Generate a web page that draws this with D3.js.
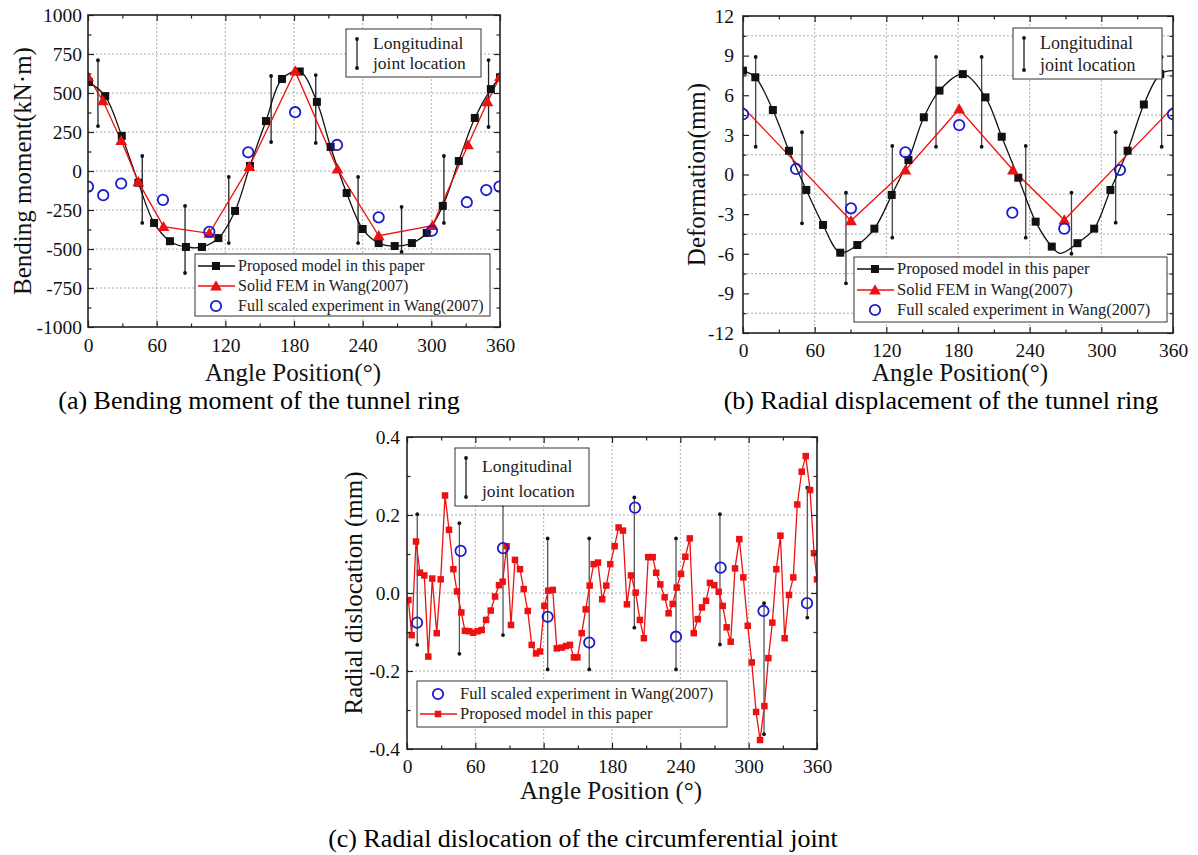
<!DOCTYPE html>
<html>
<head>
<meta charset="utf-8">
<script src="https://cdn.jsdelivr.net/npm/d3@7"></script>
<style>
  body { margin: 0; background: #fff; }
  svg { font-family: "Liberation Serif", "Times New Roman", serif; }
  .tick line { stroke: #222; stroke-width: 1.2; }
</style>
</head>
<body>
<div id="chart"></div>
<script>
const angleTicks = [0, 60, 120, 180, 240, 300, 360];
const angleMinor = [30, 90, 150, 210, 270, 330];

// (a) bending moment, kN·m
const momentTicks = [1000, 750, 500, 250, 0, -250, -500, -750, -1000];
const momentMinor = [875, 625, 375, 125, -125, -375, -625, -875];
const momentModel = [
  [0.8, 570], [15, 480], [29.5, 225], [44, -75], [57.7, -333], [71.6, -450],
  [85.6, -487], [99.6, -487], [114, -430], [128.5, -256], [141.5, 32], [155.5, 320],
  [169.5, 590], [185, 638], [200, 443], [212, 154], [226, -141], [240, -372],
  [254, -462], [268, -481], [283, -462], [296, -397], [310, -224], [324, 64],
  [338, 340], [352, 525], [360, 600]
];
const momentFem = [
  [0, 605], [13, 450], [29, 195], [44, -70], [66, -357], [106, -400], [141, 28],
  [181, 640], [218, 12], [254, -415], [301, -350], [332, 167], [349, 443], [360, 605]
];
const momentTest = [
  [0, -100], [13.3, -155], [29, -80], [65.5, -185], [106, -390], [140, 120],
  [181, 377], [217.6, 167], [254, -297], [300.5, -383], [331, -200], [348, -122], [359.5, -100]
];
const momentJoints = [
  [8.7, 710, 288], [47.4, 96, -333], [84.8, -224, -654], [123, -38, -462], [160, 609, 186],
  [199, 615, 180], [236, -38, -462], [274, -230, -519], [311, 96, -333], [350, 711, 282]
];

// (b) deformation, mm
const deformTicks = [12, 9, 6, 3, 0, -3, -6, -9, -12];
const deformMinor = [10.5, 7.5, 4.5, 1.5, -1.5, -4.5, -7.5, -10.5];
const deformModel = [
  [0, 7.86], [10.3, 7.36], [25, 4.88], [38.5, 1.8], [53, -1.17], [67, -3.82],
  [81.4, -5.92], [95.7, -5.34], [110, -4.1], [124.5, -1.55], [138.5, 1.1], [151.4, 4.33],
  [164.5, 6.35], [184, 7.6], [203, 5.84], [216.6, 2.86], [230.5, -0.24], [245, -3.57],
  [258.5, -5.46], [280, -5.2], [294, -4.1], [307.6, -1.17], [322, 1.8], [335.6, 5.3], [349.3, 7.6]
];
const deformModelLineOnly = [[265.5, -5.97], [360, 7.86]];
const deformFem = [[0, 5.1], [90.4, -3.5], [136, 0.34], [181, 4.96], [226, 0.34], [269, -3.45], [360, 5.1]];
const deformTest = [
  [0, 4.57], [44.4, 0.42], [90.4, -2.56], [136, 1.68], [181, 3.74],
  [225.5, -2.89], [269, -4.1], [315.6, 0.34], [360, 4.57]
];
const deformJoints = [
  [10.6, 8.9, 2.1], [49.4, 3.2, -3.7], [86.2, -1.38, -8.24], [125, 2.16, -4.78], [161.6, 8.9, 2.1],
  [199.8, 8.9, 2.1], [236.7, 2.16, -4.78], [275, -1.38, -6.0], [312, 3.2, -3.65], [350.5, 8.9, 2.1]
];

// (c) radial dislocation, mm
const dislocTicks = [0.4, 0.2, 0, -0.2, -0.4];
const dislocMinor = [0.3, 0.1, -0.1, -0.3];
const dislocModel = [
  [1.2, -0.018], [4.1, -0.108], [7.9, 0.132], [11.4, 0.052], [15.2, 0.045], [18.7, -0.163],
  [22.2, 0.037], [26.1, -0.103], [29.6, 0.035], [33.4, 0.25], [36.9, 0.162], [40.7, 0.061],
  [43.9, 0.004], [47.7, -0.05], [50.9, -0.097], [54.7, -0.098], [58.2, -0.102], [62, -0.098],
  [65.6, -0.095], [69.4, -0.069], [73.5, -0.045], [77.3, -0.009], [80.8, 0.02], [84, 0.029],
  [87.5, 0.12], [91.3, -0.082], [94.8, 0.085], [99.2, 0.061], [102.5, 0.01], [106, -0.046],
  [109.5, -0.133], [113.3, -0.155], [116.8, -0.15], [120.6, -0.033], [124.1, 0.006], [128, 0.008],
  [131.5, -0.142], [135.8, -0.14], [139.6, -0.136], [143.1, -0.133], [146.6, -0.165], [149.6, -0.165],
  [153.4, -0.103], [156.9, -0.042], [160.4, 0.019], [163.9, 0.074], [167.7, 0.078], [171.4, -0.016],
  [175, 0.019], [178.5, 0.074], [182.3, 0.12], [185.8, 0.168], [189.6, 0.16], [193.1, -0.029],
  [196.7, 0.045], [200.8, 0.001], [204.5, -0.069], [208, -0.116], [211.8, 0.092], [215.7, 0.092],
  [218.8, 0.052], [222.4, 0.022], [226.2, -0.011], [229.7, -0.052], [233.3, -0.028], [236.8, 0.014],
  [240.6, 0.049], [244.4, 0.093], [248.3, 0.14], [251.8, -0.103], [255.3, -0.067], [259, -0.037],
  [262.6, -0.02], [266, 0.026], [269.8, 0.02], [273.7, 0.003], [277.2, -0.033], [280.7, -0.088],
  [284.2, -0.125], [288, 0.063], [291.8, 0.138], [295.3, 0.04], [299.2, -0.084], [302.7, -0.178],
  [306.5, -0.305], [310, -0.377], [313.8, -0.29], [317.3, -0.167], [320.8, -0.076], [324.3, 0.061],
  [327.9, 0.147], [331.6, -0.116], [335.4, -0.005], [339.2, 0.04], [342.7, 0.227], [346.6, 0.311],
  [350.1, 0.351], [353.9, 0.264], [357.4, 0.102], [360, 0.035]
];
const dislocTest = [
  [8.8, -0.076], [47.1, 0.108], [84.3, 0.115], [123.5, -0.061], [160, -0.127],
  [200.2, 0.219], [236.2, -0.112], [275.4, 0.065], [313, -0.046], [351.2, -0.026]
];
const dislocJoints = [
  [9, 0.202, -0.133], [46, 0.179, -0.156], [84.3, 0.226, -0.108], [123.5, 0.14, -0.196],
  [160, 0.14, -0.196], [199.6, 0.245, -0.089], [236.2, 0.14, -0.196], [274.8, 0.202, -0.132],
  [313.5, -0.026, -0.362], [351.5, 0.27, -0.063]
];

const BLACK = "#111", RED = "#ee1111", BLUE = "#1a1ad0";
const serif = "Liberation Serif, Times New Roman, serif";

const svg = d3.select("#chart").append("svg")
  .attr("width", 1198).attr("height", 855);
svg.append("rect").attr("width", 1198).attr("height", 855).attr("fill", "#fff");

const panels = [
  {
    id: "a", left: 88, right: 500, top: 15, bottom: 327,
    yDomain: [-1000, 1000], yTicks: momentTicks, yMinor: momentMinor, yGrid: momentTicks.slice(1, -1),
    fmt: (d) => String(d), xPad: 11, yPad: 6, joints: momentJoints, jointColor: "#222",
    series: [
      { data: momentModel, color: BLACK, line: true, curve: d3.curveCatmullRom, marker: "square" },
      { data: momentFem, color: RED, line: true, curve: d3.curveLinear, marker: "triangle" },
      { data: momentTest, color: BLUE, line: false, marker: "circle" }
    ],
    yTitle: "Bending moment(kN·m)", yTitleX: 31, xTitle: "Angle Position(°)", xTitleX: 293, xTitleY: 381,
    caption: "(a) Bending moment of the tunnel ring", capX: 259, capY: 409,
    legend: { x: 195, y: 254, w: 295, h: 62, rowY: [266, 286, 306], fs: 16,
      labels: ["Proposed model in this paper", "Solid FEM in Wang(2007)", "Full scaled experiment in Wang(2007)"],
      order: [0, 1, 2] },
    jointBox: { x: 346, y: 29, w: 135, h: 48, fs: 17.5 }
  },
  {
    id: "b", left: 743, right: 1173, top: 16, bottom: 333,
    yDomain: [-12, 12], yTicks: deformTicks, yMinor: deformMinor, yGrid: deformMinor,
    fmt: (d) => String(d), xPad: 10, yPad: 9, joints: deformJoints, jointColor: "#444",
    series: [
      { data: deformModel, extra: deformModelLineOnly, color: BLACK, line: true, curve: d3.curveCatmullRom, marker: "square" },
      { data: deformFem, color: RED, line: true, curve: d3.curveLinear, marker: "triangle", noEnds: true },
      { data: deformTest, color: BLUE, line: false, marker: "circle" }
    ],
    yTitle: "Deformation(mm)", yTitleX: 705, xTitle: "Angle Position(°)", xTitleX: 960, xTitleY: 381,
    caption: "(b) Radial displacement of the tunnel ring", capX: 941, capY: 409,
    legend: { x: 854, y: 257, w: 313, h: 65, rowY: [269, 290, 310], fs: 16.5,
      labels: ["Proposed model in this paper", "Solid FEM in Wang(2007)", "Full scaled experiment in Wang(2007)"],
      order: [0, 1, 2] },
    jointBox: { x: 1013, y: 28, w: 149, h: 51, fs: 18 }
  },
  {
    id: "c", left: 407, right: 817, top: 437, bottom: 749,
    yDomain: [-0.4, 0.4], yTicks: dislocTicks, yMinor: dislocMinor, yGrid: [0.2, 0, -0.2],
    fmt: (d) => d.toFixed(1), xPad: 10, yPad: 7, joints: dislocJoints, jointColor: "#555",
    series: [
      { data: dislocModel, color: RED, line: true, curve: d3.curveLinear, marker: "square", size: 6.5 },
      { data: dislocTest, color: BLUE, line: false, marker: "circle" }
    ],
    yTitle: "Radial dislocation (mm)", yTitleX: 362, xTitle: "Angle Position (°)", xTitleX: 611, xTitleY: 799,
    caption: "(c) Radial dislocation of the circumferential joint", capX: 583, capY: 847,
    legend: { x: 417, y: 681, w: 310, h: 46, rowY: [694, 714], fs: 16.5,
      labels: ["Full scaled experiment in Wang(2007)", "Proposed model in this paper"],
      order: [1, 0] },
    jointBox: { x: 455, y: 448, w: 134, h: 58, fs: 17.5 }
  }
];

function drawMarker(g, type, color, cx, cy, size) {
  if (type === "square") {
    const s = size || 8;
    g.append("rect").attr("x", cx - s / 2).attr("y", cy - s / 2)
      .attr("width", s).attr("height", s).attr("fill", color);
  } else if (type === "triangle") {
    g.append("path").attr("transform", `translate(${cx},${cy + 1})`)
      .attr("d", d3.symbol(d3.symbolTriangle, 60)()).attr("fill", color);
  } else {
    g.append("circle").attr("cx", cx).attr("cy", cy).attr("r", 5.2)
      .attr("fill", "none").attr("stroke", color).attr("stroke-width", 1.8);
  }
}

function drawPanel(p) {
  const x = d3.scaleLinear().domain([0, 360]).range([p.left, p.right]);
  const y = d3.scaleLinear().domain(p.yDomain).range([p.bottom, p.top]);
  const g = svg.append("g");

  svg.append("clipPath").attr("id", "clip-" + p.id).append("rect")
    .attr("x", p.left).attr("y", p.top)
    .attr("width", p.right - p.left).attr("height", p.bottom - p.top);

  // dotted grid
  const grid = g.append("g").attr("stroke", "#9a9a9a").attr("stroke-width", 0.8)
    .attr("stroke-dasharray", "2,2");
  grid.selectAll(".gx").data(angleTicks.slice(1, -1)).join("line")
    .attr("x1", (d) => x(d)).attr("x2", (d) => x(d)).attr("y1", p.top).attr("y2", p.bottom);
  grid.selectAll(".gy").data(p.yGrid).join("line")
    .attr("y1", (d) => y(d)).attr("y2", (d) => y(d)).attr("x1", p.left).attr("x2", p.right);

  // longitudinal joint bars
  const jg = g.append("g");
  p.joints.forEach((d) => {
    jg.append("line").attr("x1", x(d[0])).attr("x2", x(d[0]))
      .attr("y1", y(d[1])).attr("y2", y(d[2])).attr("stroke", p.jointColor).attr("stroke-width", 1.3);
    [d[1], d[2]].forEach((v) => jg.append("circle").attr("cx", x(d[0])).attr("cy", y(v))
      .attr("r", 1.9).attr("fill", "#111"));
  });

  const plot = g.append("g").attr("clip-path", `url(#clip-${p.id})`);
  p.series.forEach((s) => {
    if (!s.line) return;
    const pts = s.extra ? s.data.concat(s.extra).sort((a, b) => a[0] - b[0]) : s.data;
    plot.append("path").datum(pts)
      .attr("d", d3.line().x((d) => x(d[0])).y((d) => y(d[1])).curve(s.curve))
      .attr("fill", "none").attr("stroke", s.color).attr("stroke-width", 1.3);
  });
  p.series.forEach((s) => {
    s.data.forEach((d) => {
      if (s.noEnds && (d[0] <= 0 || d[0] >= 360)) return;
      drawMarker(plot, s.marker, s.color, x(d[0]), y(d[1]), s.size);
    });
  });

  // axes with inward ticks on all four sides
  const ax = (axis, tr) => {
    const a = g.append("g").attr("transform", tr).call(axis);
    a.select(".domain").remove();
    a.selectAll("text").attr("font-family", serif).attr("fill", "#111").style("font-size", "19.5px");
    return a;
  };
  ax(d3.axisBottom(x).tickValues(angleTicks).tickSize(-6).tickPadding(p.xPad).tickFormat((d) => d), `translate(0,${p.bottom})`);
  ax(d3.axisBottom(x).tickValues(angleMinor).tickSize(-3.5).tickFormat(""), `translate(0,${p.bottom})`);
  ax(d3.axisTop(x).tickValues(angleTicks).tickSize(-6).tickFormat(""), `translate(0,${p.top})`);
  ax(d3.axisTop(x).tickValues(angleMinor).tickSize(-3.5).tickFormat(""), `translate(0,${p.top})`);
  ax(d3.axisLeft(y).tickValues(p.yTicks).tickSize(-6).tickPadding(p.yPad).tickFormat(p.fmt), `translate(${p.left},0)`);
  ax(d3.axisLeft(y).tickValues(p.yMinor).tickSize(-3.5).tickFormat(""), `translate(${p.left},0)`);
  ax(d3.axisRight(y).tickValues(p.yTicks).tickSize(-6).tickFormat(""), `translate(${p.right},0)`);
  ax(d3.axisRight(y).tickValues(p.yMinor).tickSize(-3.5).tickFormat(""), `translate(${p.right},0)`);

  g.append("rect").attr("x", p.left).attr("y", p.top)
    .attr("width", p.right - p.left).attr("height", p.bottom - p.top)
    .attr("fill", "none").attr("stroke", "#222").attr("stroke-width", 1.6);

  // titles
  g.append("text").attr("x", p.xTitleX).attr("y", p.xTitleY).attr("text-anchor", "middle")
    .attr("font-size", 25).attr("fill", "#111").text(p.xTitle);
  g.append("text").attr("transform", `translate(${p.yTitleX},${(p.top + p.bottom) / 2}) rotate(-90)`)
    .attr("text-anchor", "middle").attr("font-size", 25).attr("fill", "#111").text(p.yTitle);
  g.append("text").attr("x", p.capX).attr("y", p.capY).attr("text-anchor", "middle")
    .attr("font-size", 26).attr("fill", "#000").text(p.caption);

  // series legend
  const L = p.legend;
  const lg = g.append("g");
  lg.append("rect").attr("x", L.x).attr("y", L.y).attr("width", L.w).attr("height", L.h)
    .attr("fill", "#fff").attr("stroke", "#333").attr("stroke-width", 1);
  L.order.forEach((si, row) => {
    const s = p.series[si];
    const cy = L.rowY[row];
    if (s.line) {
      lg.append("line").attr("x1", L.x + 3).attr("x2", L.x + 40).attr("y1", cy).attr("y2", cy)
        .attr("stroke", s.color).attr("stroke-width", 1.3);
    }
    drawMarker(lg, s.marker, s.color, L.x + 21, cy, s.size);
    lg.append("text").attr("x", L.x + 43).attr("y", cy + 5).attr("font-size", L.fs)
      .attr("fill", "#222").text(L.labels[row]);
  });

  // joint location legend
  const J = p.jointBox;
  const jb = g.append("g");
  jb.append("rect").attr("x", J.x).attr("y", J.y).attr("width", J.w).attr("height", J.h)
    .attr("fill", "#fff").attr("stroke", "#333").attr("stroke-width", 1);
  const ix = J.x + 11, iy1 = J.y + 10, iy2 = J.y + J.h - 9;
  jb.append("line").attr("x1", ix).attr("x2", ix).attr("y1", iy1).attr("y2", iy2)
    .attr("stroke", "#222").attr("stroke-width", 1.3);
  [iy1, iy2].forEach((v) => jb.append("circle").attr("cx", ix).attr("cy", v).attr("r", 1.9).attr("fill", "#111"));
  jb.append("text").attr("x", J.x + 27).attr("y", J.y + J.h * 0.42).attr("font-size", J.fs)
    .attr("fill", "#222").text("Longitudinal");
  jb.append("text").attr("x", J.x + 27).attr("y", J.y + J.h * 0.84).attr("font-size", J.fs)
    .attr("fill", "#222").text("joint location");
}

panels.forEach(drawPanel);
</script>
</body>
</html>
